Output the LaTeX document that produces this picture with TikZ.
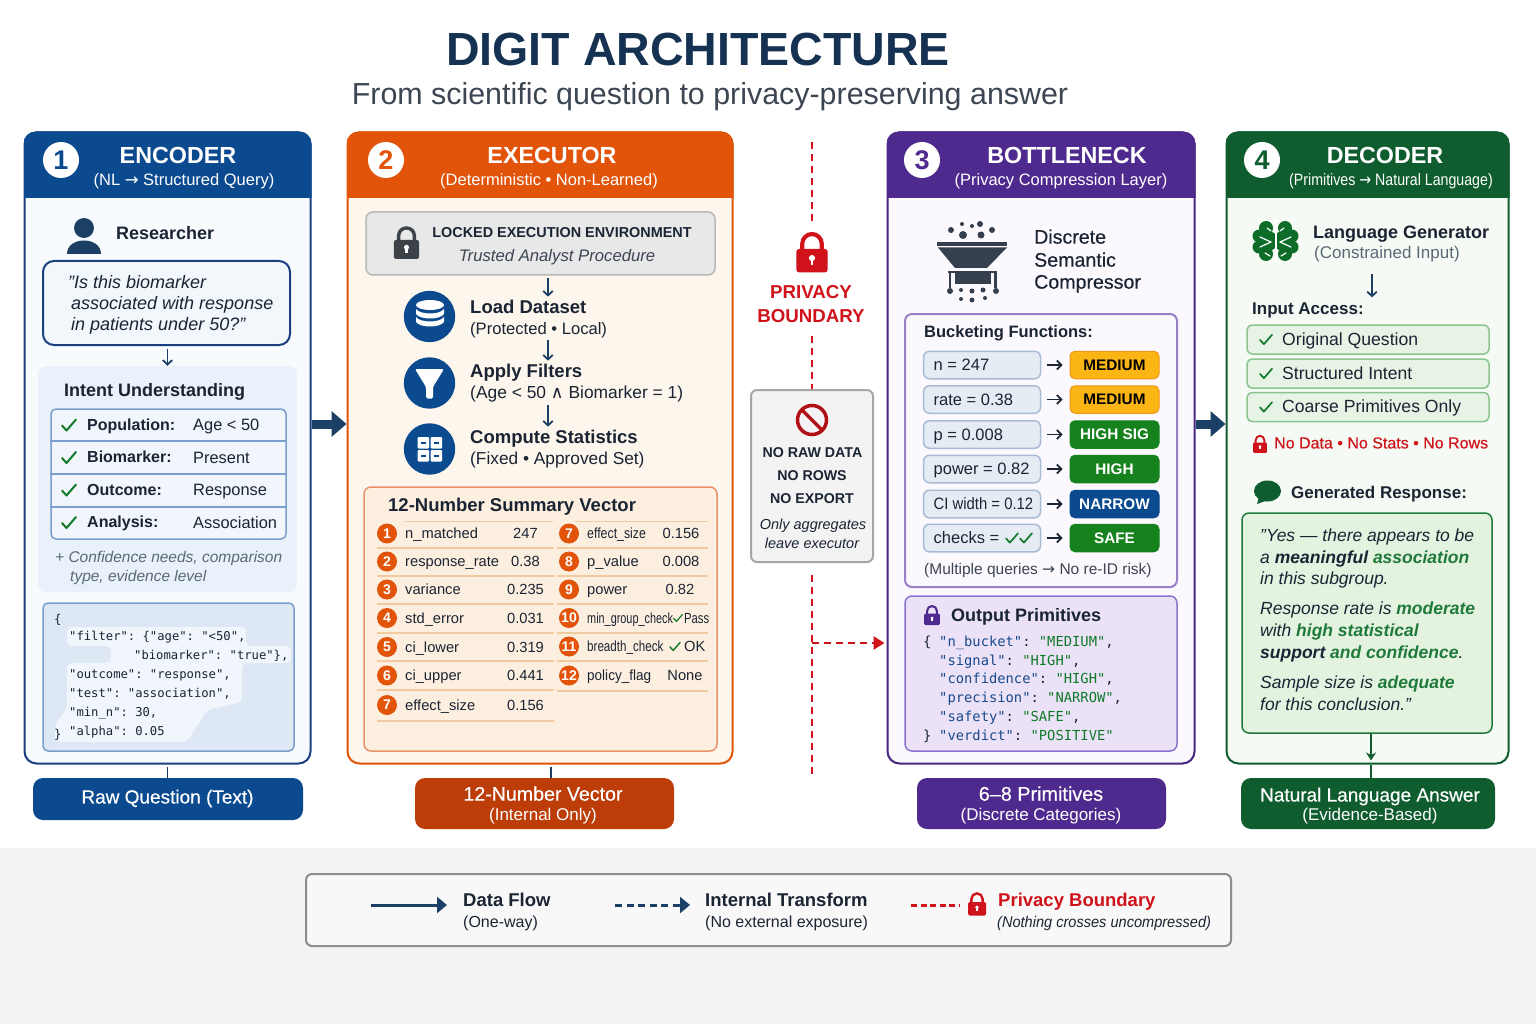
\documentclass[tikz,border=0pt]{standalone}
\usepackage{fontspec}
\setmainfont{Liberation Sans}
\setmonofont{DejaVu Sans Mono}
\newfontfamily\symfont{DejaVu Sans}
\newfontface\medfont{Liberation Sans}[FakeBold=0.4]
\usetikzlibrary{arrows.meta}

\definecolor{ink}{HTML}{1A2433}
\definecolor{navy}{HTML}{1C3F66}
\definecolor{encblue}{HTML}{0B4A8F}
\definecolor{encline}{HTML}{1B3F7F}
\definecolor{encbody}{HTML}{F8FBFE}
\definecolor{intentbg}{HTML}{E9F1FA}
\definecolor{querybg}{HTML}{DEE8F4}
\definecolor{tabline}{HTML}{7A9FCF}
\definecolor{excorange}{HTML}{E2540A}
\definecolor{excbody}{HTML}{FDF6EC}
\definecolor{excdark}{HTML}{BC3D08}
\definecolor{sumbg}{HTML}{FDEFDF}
\definecolor{sumline}{HTML}{E8916A}
\definecolor{rowline}{HTML}{F3C9A0}
\definecolor{botpurple}{HTML}{4F2A8E}
\definecolor{botbody}{HTML}{FBF8FE}
\definecolor{botline}{HTML}{9A7FC8}
\definecolor{outbg}{HTML}{EBE2F7}
\definecolor{decgreen}{HTML}{0F5C2E}
\definecolor{decbody}{HTML}{F5FBF4}
\definecolor{accessbg}{HTML}{E7F3E4}
\definecolor{accessline}{HTML}{8CC48E}
\definecolor{respbg}{HTML}{E4F2E0}
\definecolor{respgreen}{HTML}{1F7A3A}
\definecolor{tickgreen}{HTML}{137A2B}
\definecolor{bndred}{HTML}{D0121B}
\definecolor{iconslate}{HTML}{363F4D}
\definecolor{lockgray}{HTML}{3C4248}
\definecolor{mutegray}{HTML}{5A6878}
\definecolor{bandgray}{HTML}{F3F3F3}
\definecolor{amber}{HTML}{FBB515}
\definecolor{amberline}{HTML}{F0941A}
\definecolor{okgreen}{HTML}{16821E}
\definecolor{funbg}{HTML}{E6ECF4}
\definecolor{funline}{HTML}{A8BBD4}
\definecolor{jsonkey}{HTML}{1A4A8A}
\definecolor{jsonval}{HTML}{0F7A26}

\tikzset{
  plaintxt/.style={inner sep=0pt, anchor=base west, yshift=-#1*0.34pt, text=ink, font=\fontsize{#1}{#1}\selectfont},
  medtxt/.style={plaintxt=#1, font=\fontsize{#1}{#1}\selectfont\medfont},
  boldtxt/.style={plaintxt=#1, font=\fontsize{#1}{#1}\selectfont\bfseries},
  italtxt/.style={plaintxt=#1, font=\fontsize{#1}{#1}\selectfont\itshape},
  codetxt/.style={plaintxt=#1, font=\fontsize{#1}{#1}\selectfont\ttfamily},
  ctr/.style={anchor=base},
  stage/.style={draw, line width=2pt, rounded corners=12pt, inner sep=0pt, minimum height=631pt},
  softbox/.style={draw, line width=1.5pt, rounded corners=7pt, inner sep=0pt},
  tagbox/.style={rounded corners=10pt, inner sep=0pt},
  badge/.style={circle, fill=excorange, inner sep=0pt, minimum size=20pt, text=white, font=\fontsize{14}{14}\selectfont\bfseries},
  bucket/.style={rounded corners=5pt, line width=1pt, inner sep=0pt, minimum width=89pt, minimum height=27.5pt, font=\fontsize{15.3}{15.3}\selectfont\bfseries},
  funbox/.style={softbox, rounded corners=6pt, fill=funbg, draw=funline, minimum width=117pt, minimum height=27.5pt},
  accessbox/.style={softbox, rounded corners=5pt, fill=accessbg, draw=accessline, minimum width=242pt, minimum height=29pt},
  flow/.style={navy, line width=1.8pt, shorten >=3pt, -{Straight Barb[length=4.5pt,width=9.5pt]}},
  bigflow/.style={navy, line width=9pt, -{Triangle[length=15pt,width=25pt]}},
  stem/.style={navy, line width=1.8pt},
  bnddash/.style={bndred, line width=2.6pt, dash pattern=on 7pt off 5pt},
}

% icons
\newcommand{\tickmark}[4]{\draw[#3, line width=#4*2pt, line cap=round, line join=round]
  (#1-7*#4,#2+0.5*#4) -- (#1-2.5*#4,#2+5.5*#4) -- (#1+7*#4,#2-5.5*#4);}
\newcommand{\lockicon}[4]{\begin{scope}[shift={(#1,#2)}, scale=#3]
  \draw[#4, line width=#3*3.2pt] (-7.5,2) -- (-7.5,-4) arc (180:360:7.5) -- (7.5,2);
  \fill[#4, rounded corners=#3*2pt] (-12,0) rectangle (12,18);
  \fill[white] (0,7) circle (2.4);
  \fill[white] (-1,7) rectangle (1,12);
\end{scope}}
\newcommand{\stagehead}[8]{%
  \begin{scope}
    \clip[rounded corners=12pt] (#1.north west) rectangle (#1.south east);
    \fill[#2] (#1.north west) rectangle ([yshift=-67pt]#1.north east);
  \end{scope}
  \node[circle, fill=white, inner sep=0pt, minimum size=36pt, text=#2, font=\fontsize{27}{27}\selectfont\bfseries] (#1num) at (#4,160) {#3};
  \node[boldtxt=23.3, ctr, text=white] (#1title) at (#6,156) {#5};
  \node[plaintxt=16.5, ctr, text=white] (#1sub) at (#8,180) {#7};
}
\newcommand{\jk}[1]{\textcolor{jsonkey}{#1}}
\newcommand{\jv}[1]{\textcolor{jsonval}{#1}}
\newcommand{\resphl}[1]{\textcolor{respgreen}{\textbf{#1}}}
\newcommand{\narrowtxt}[2]{\scalebox{#1}[1]{#2}}

\begin{document}
\begin{tikzpicture}[x=1pt, y=-1pt]
  \useasboundingbox (0,0) rectangle (1536,1024);
  \fill[bandgray] (0,848) rectangle (1536,1024);

  % Title
  \node[boldtxt=46.5, ctr, text=navy!80!black] (maintitle) at (698,50) {DIGIT ARCHITECTURE};
  \node[plaintxt=30.4, ctr, text=ink!85] (mainsub) at (710,94) {From scientific question to privacy-preserving answer};

  % Panels
  \node[stage, draw=encline, fill=encbody, minimum width=286pt] (encoder) at (167.5,448) {};
  \node[stage, draw=excorange, fill=excbody, minimum width=385pt] (executor) at (540,448) {};
  \node[stage, draw=botpurple!90!black, fill=botbody, minimum width=307pt] (bottleneck) at (1041,448) {};
  \node[stage, draw=decgreen, fill=decbody, minimum width=282pt] (decoder) at (1367.5,448) {};

  \stagehead{encoder}{encblue}{1}{61}{ENCODER}{178}{(NL {\symfont →} Structured Query)}{184}
  \stagehead{executor}{excorange}{2}{386}{EXECUTOR}{552}{(Deterministic • Non-Learned)}{549}
  \stagehead{bottleneck}{botpurple}{3}{922}{BOTTLENECK}{1067}{(Privacy Compression Layer)}{1061}
  \stagehead{decoder}{decgreen}{4}{1262}{DECODER}{1385}{\narrowtxt{0.86}{(Primitives {\symfont →} Natural Language)}}{1391}

  % Flow between panels
  \draw[bigflow] ([yshift=24pt]encoder.east) -- ([yshift=24pt]executor.west);
  \draw[bigflow] ([yshift=24pt]bottleneck.east) -- ([yshift=24pt]decoder.west);

  % 1 Encoder
  \fill[navy] (84,228) circle (10);
  \fill[navy] (67,254.5) .. controls (67,236) and (101,236) .. (101,254.5) -- cycle;
  \node[boldtxt=18] (researcher) at (116,233.5) {Researcher};
  \node[softbox, draw=encline, line width=2pt, rounded corners=11pt, fill=encbody!60!intentbg, minimum width=247pt, minimum height=84pt] (question) at (166.5,303) {};
  \node[italtxt=18] (q1) at (68,282) {"Is this biomarker};
  \node[italtxt=18] (q2) at (71,303) {associated with response};
  \node[italtxt=18] (q3) at (71,324) {in patients under 50?"};
  \node[fill=intentbg, rounded corners=8pt, inner sep=0pt, minimum width=259pt, minimum height=226pt] (intent) at (167.5,479) {};
  \draw[flow, shorten >=0pt] (question.south -| intent.north) ++(0,3) -- (intent.north);
  \node[boldtxt=18] (intenthead) at (64,390) {Intent Understanding};
  \node[softbox, rounded corners=5pt, draw=tabline, fill=encbody!50!intentbg, minimum width=235pt, minimum height=130pt] (intenttab) at (168.5,474) {};
  \foreach \yy in {441,474,507}
    \draw[tabline, line width=1.5pt] (intenttab.west |- 0,\yy) -- (intenttab.east |- 0,\yy);
  \foreach \i/\key/\val/\yy in {1/Population:/Age < 50/425, 2/Biomarker:/Present/457.5, 3/Outcome:/Response/490, 4/Analysis:/Association/522.5} {
    \tickmark{69}{\yy}{tickgreen}{1}
    \node[boldtxt=16] (ikey\i) at (87,\yy) {\key};
    \node[plaintxt=16.4] (ival\i) at (193,\yy) {\val};
  }
  \node[italtxt=15.5, text=mutegray] (note1) at (55,557) {+ Confidence needs, comparison};
  \node[italtxt=15.5, text=mutegray] (note2) at (70,576) {type, evidence level};

  % query json
  \node[softbox, rounded corners=5pt, draw=tabline, fill=querybg, minimum width=251pt, minimum height=148pt] (query) at (168.5,677) {};
  \fill[encbody!50!intentbg, rounded corners=5pt] (67,627) -- (246,627) -- (246,646) -- (291,646) -- (291,663) -- (242,663) -- (242,702) -- (207,710) -- (187,742) -- (55,742) -- (55,725) -- (67,708) -- (67,663) -- (111,663) -- (111,646) -- (67,646) -- cycle;
  \foreach \i/\xx/\yy/\txt in {1/54/619/\{, 2/69/636.5/{"filter": \{"age": "<50",}, 3/134/655/{"biomarker": "true"\},}, 4/69/674/{"outcome": "response",}, 5/69/693/{"test": "association",}, 6/69/712/{"min\_n": 30,}, 7/69/731/{"alpha": 0.05}, 8/54/734/\}}
    \node[codetxt=12.2] (json\i) at (\xx,\yy) {\txt};

  \node[tagbox, fill=encblue, minimum width=270pt, minimum height=42pt] (tag1) at (168,799) {};
  \node[medtxt=19, ctr, text=white] (tag1a) at (167.5,797) {Raw Question (Text)};
  \draw[stem] ([yshift=-2pt]encoder.south) -- (tag1.north -| encoder.south);

  % 2 Executor
  \node[softbox, fill=lockgray!12!white, draw=black!28, minimum width=349pt, minimum height=63pt] (lockenv) at (540.5,243.5) {};
  \lockicon{406.5}{240}{1.05}{lockgray}
  \node[boldtxt=14.4, ctr] (lockenva) at (562,233) {LOCKED EXECUTION ENVIRONMENT};
  \node[italtxt=16.7, ctr, text=ink!85] (lockenvb) at (557,256) {Trusted Analyst Procedure};
  \coordinate (execaxis) at (548,0);

  \foreach \yy in {316.5,383,449}
    \fill[encblue] (429.5,\yy) circle (25.7);
  % database
  \fill[white] (430,305) ellipse (14 and 5);
  \foreach \yy in {0,8}
    \fill[white] (416,309+\yy) .. controls (420,315+\yy) and (440,315+\yy) .. (444,309+\yy) -- (444,314+\yy) .. controls (440,320+\yy) and (420,320+\yy) .. (416,314+\yy) -- cycle;
  % funnel
  \fill[white, rounded corners=1.5pt] (415,369) -- (444,369) -- (433,387) -- (433,398.5) -- (426,398.5) -- (426,387) -- cycle;
  % grid
  \foreach \xx in {417.5,430.5} \foreach \yy in {437,450} {
    \fill[white, rounded corners=1pt] (\xx,\yy) rectangle ++(11.5,11.5);
    \fill[encblue] (\xx+3.5,\yy+4.5) rectangle ++(4.5,2.5);
  }
  \node[boldtxt=18.5] (loada) at (470,307) {Load Dataset};
  \node[plaintxt=16.6] (loadb) at (470,329) {(Protected • Local)};
  \node[boldtxt=18.5] (filta) at (470,371) {Apply Filters};
  \node[plaintxt=17.4] (filtb) at (470,393) {(Age < 50 {\symfont ∧} Biomarker = 1)};
  \node[boldtxt=18.5] (compa) at (470,437) {Compute Statistics};
  \node[plaintxt=17.3] (compb) at (470,459) {(Fixed • Approved Set)};
  \draw[flow] (lockenv.south -| execaxis) ++(0,2) -- (loada.north -| execaxis);
  \draw[flow] (loadb.south -| execaxis) ++(0,2) -- (filta.north -| execaxis);
  \draw[flow] (filtb.south -| execaxis) ++(0,2) -- (compa.north -| execaxis);

  % summary vector
  \node[softbox, fill=sumbg, draw=sumline, minimum width=353pt, minimum height=264pt] (summary) at (540.5,619) {};
  \node[boldtxt=18.5] (sumhead) at (388,505) {12-Number Summary Vector};
  \foreach \xa/\xb/\yy in {405/553/521.5,377/554/548,377/554/576,377/554/604,377/554/633,377/554/661,377/554/690,377/554/721,575/708/521.5,557/708/548,557/708/576,557/708/604,557/708/633,557/708/661,557/708/691}
    \draw[rowline, line width=1.2pt] (\xa,\yy) -- (\xb,\yy);
  \foreach \i/\lab/\val/\yy in {1/n\_matched/247/533.5, 2/response\_rate/0.38/561.5, 3/variance/0.235/589.5, 4/std\_error/0.031/618, 5/ci\_lower/0.319/647, 6/ci\_upper/0.441/675.5, 7/effect\_size/0.156/705} {
    \node[badge] (lnum\i) at (387,\yy) {\i};
    \node[plaintxt=14.7] (llab\i) at (405,\yy) {\lab};
    \node[plaintxt=14.7, ctr] (lval\i) at (525.5,\yy) {\val};
  }
  \foreach \i/\lab/\sc/\yy in {7/effect\_size/0.84/533.5, 8/p\_value/1/561.5, 9/power/1/589.5, 10/min\_group\_check/0.74/618, 11/breadth\_check/0.79/646.5, 12/policy\_flag/0.92/675.5} {
    \node[badge] (rnum\i) at (569,\yy) {\i};
    \node[plaintxt=14.7] (rlab\i) at (587,\yy) {\narrowtxt{\sc}{\lab}};
  }
  \node[plaintxt=14.7, ctr] (rval7) at (681,533.5) {0.156};
  \node[plaintxt=14.7, ctr] (rval8) at (681,561.5) {0.008};
  \node[plaintxt=14.7, ctr] (rval9) at (680,589.5) {0.82};
  \tickmark{678}{618}{tickgreen}{0.62}
  \node[plaintxt=14.7, anchor=base east] (rval10) at (709.5,618) {\narrowtxt{0.77}{Pass}};
  \tickmark{675}{646.5}{tickgreen}{0.72}
  \node[plaintxt=14.7] (rval11) at (684,646.5) {OK};
  \node[plaintxt=14.7, ctr] (rval12) at (685,675.5) {None};

  \node[tagbox, fill=excdark, minimum width=259pt, minimum height=51pt] (tag2) at (544.5,803.5) {};
  \node[medtxt=19.6, ctr, text=white] (tag2a) at (543,794) {12-Number Vector};
  \node[plaintxt=17, ctr, text=white] (tag2b) at (543,815) {(Internal Only)};
  \coordinate (stem2) at (551,770);
  \draw[stem] (executor.south -| stem2) ++(0,2) -- (tag2.north -| stem2);

  % Privacy boundary
  \coordinate (bnd1) at (812,142);
  \coordinate (bnd2) at (812,224);
  \coordinate (bnd3) at (812,336);
  \coordinate (bnd4) at (812,575);
  \coordinate (bnd5) at (812,776);
  \coordinate (bndfork) at (812,643);
  \node[softbox, line width=2pt, rounded corners=6pt, fill=bandgray, draw=black!35, minimum width=122pt, minimum height=172pt] (stopbox) at (812,476) {};
  \draw[bnddash] (bnd1) -- (bnd2);
  \draw[bnddash] (bnd3) -- (stopbox.north);
  \draw[bnddash] (bnd4) -- (bnd5);
  \draw[bnddash, shorten >=2pt, -{Triangle[length=11pt,width=13pt]}] (bndfork) -- (bottleneck.west |- bndfork);
  \lockicon{812}{249}{1.3}{bndred}
  \node[boldtxt=18.7, ctr, text=bndred] (priv1) at (811,292.5) {PRIVACY};
  \node[boldtxt=18.7, ctr, text=bndred] (priv2) at (811,316.5) {BOUNDARY};
  \draw[bndred!85!black, line width=3.5pt] (812,420) circle (14.5);
  \draw[bndred!85!black, line width=3.5pt] (802,410) -- (822,430);
  \node[boldtxt=14.2, ctr] (stop1) at (812.5,453) {NO RAW DATA};
  \node[boldtxt=14.2, ctr] (stop2) at (812,476) {NO ROWS};
  \node[boldtxt=14.2, ctr] (stop3) at (812,499) {NO EXPORT};
  \node[italtxt=14.5, ctr] (stop4) at (813,525) {Only aggregates};
  \node[italtxt=14.5, ctr] (stop5) at (812,544) {leave executor};

  % 3 Bottleneck
  \foreach \xx/\yy/\rr in {951/230/3,963/235/4,962/224/2,972/226/2,980/224/3,981/235/3.5,992/230/3,950/291/3,961/290/2,972/291/2.5,983/290/2.5,996/291/3,961/299/2,972/300/2.5,985/298/2}
    \fill[iconslate] (\xx,\yy) circle (\rr);
  \fill[iconslate] (937,242) rectangle (1007,246);
  \fill[iconslate] (938,247.5) -- (1007,247.5) -- (987,268) -- (955,268) -- cycle;
  \fill[iconslate] (948,271) rectangle (997,273.5);
  \fill[iconslate] (955,273) rectangle (991,284);
  \fill[iconslate] (948.5,273) rectangle (951,288);
  \fill[iconslate] (994,273) rectangle (996.5,288);
  \node[medtxt=19.6] (comp1) at (1034,237) {Discrete};
  \node[medtxt=19.6] (comp2) at (1034,260) {Semantic};
  \node[medtxt=19.6] (comp3) at (1034,282) {Compressor};

  \node[softbox, line width=2pt, fill=botbody, draw=botline, minimum width=272pt, minimum height=273pt] (bucketfn) at (1041,450.5) {};
  \node[boldtxt=16.5] (buckethead) at (924,332) {Bucketing Functions:};
  \foreach \i/\lab/\sc/\word/\col/\edge/\txt/\yy in {
    1/n = 247/1/MEDIUM/amber/amberline/black/365,
    2/rate = 0.38/1/MEDIUM/amber/amberline/black/399.5,
    3/p = 0.008/1/HIGH SIG/okgreen/okgreen/white/434.5,
    4/power = 0.82/1/HIGH/okgreen/okgreen/white/469,
    5/CI width = 0.12/0.9/NARROW/encblue/encblue/white/504,
    6/checks = /1/SAFE/okgreen/okgreen/white/538} {
    \node[funbox] (fun\i) at (982,\yy) {};
    \node[plaintxt=16.5] (funtxt\i) at (933.5,\yy) {\narrowtxt{\sc}{\lab}};
    \node[bucket, fill=\col, draw=\edge, text=\txt] (bin\i) at (1114.5,\yy) {\word};
    \draw[ink, line width=1.7pt, shorten <=6pt, shorten >=7pt, -{Straight Barb[length=4.5pt,width=9pt]}] (fun\i) -- (bin\i);
  }
  \tickmark{1012}{538}{tickgreen}{0.85}
  \tickmark{1026}{538}{tickgreen}{0.85}
  \node[plaintxt=15.5, text=ink!85] (reid) at (924,569) {(Multiple queries {\symfont →} No re-ID risk)};

  \node[softbox, fill=outbg, draw=botline!90!blue, minimum width=272pt, minimum height=155pt] (primbox) at (1041,673.5) {};
  \lockicon{932}{613.5}{0.65}{botpurple}
  \node[boldtxt=18] (primhead) at (951,615) {Output Primitives};
  \node[codetxt=13.8] (prim1) at (923,642) {\{};
  \node[codetxt=13.8] (prim1b) at (939,642) {\jk{"n\_bucket"}: \jv{"MEDIUM"},};
  \node[codetxt=13.8] (prim2) at (939,660.5) {\jk{"signal"}: \jv{"HIGH"},};
  \node[codetxt=13.8] (prim3) at (939,679) {\jk{"confidence"}: \jv{"HIGH"},};
  \node[codetxt=13.8] (prim4) at (939,698) {\jk{"precision"}: \jv{"NARROW"},};
  \node[codetxt=13.8] (prim5) at (939,717) {\jk{"safety"}: \jv{"SAFE"},};
  \node[codetxt=13.8] (prim6) at (923,735.5) {\}};
  \node[codetxt=13.8] (prim6b) at (939,735.5) {\jk{"verdict"}: \jv{"POSITIVE"}};

  \node[tagbox, fill=botpurple, minimum width=249pt, minimum height=51pt] (tag3) at (1041.5,803.5) {};
  \node[medtxt=19.8, ctr, text=white] (tag3a) at (1041,794) {6–8 Primitives};
  \node[plaintxt=17, ctr, text=white] (tag3b) at (1041,815) {(Discrete Categories)};

  % 4 Decoder
  \foreach \xx/\yy/\rr in {1266/228/7,1285/228/7,1259/236/6.5,1292/236/6.5,1259/247/6.5,1292/247/6.5,1266/254/7,1285/254/7,1268/241/10,1283/241/10}
    \fill[decgreen!90!green] (\xx,\yy) circle (\rr);
  \draw[white, line width=2pt] (1275.5,219) -- (1275.5,263);
  \foreach \xa/\ya/\xb/\yb in {1260/237/1271/242,1260/247/1271/242,1291/237/1280/242,1291/247/1280/242,1265/253/1270/256,1286/253/1281/256,1267/228/1271/231,1284/228/1280/231}
    \draw[white, line width=1.2pt, line cap=round] (\xa,\ya) -- (\xb,\yb);
  \node[boldtxt=18] (gena) at (1313,232) {Language Generator};
  \node[plaintxt=17, text=mutegray] (genb) at (1314,253) {(Constrained Input)};
  \node[boldtxt=17] (inputhead) at (1252,308.5) {Input Access:};
  \coordinate (genaxis) at (1372,0);
  \draw[flow, shorten <=11pt, shorten >=5pt] (genb.south -| genaxis) -- (inputhead.north -| genaxis);
  \foreach \i/\lab/\yy in {1/Original Question/339.5, 2/Structured Intent/373.5, 3/Coarse Primitives Only/407} {
    \node[accessbox] (acc\i) at (1368,\yy) {};
    \tickmark{1266}{\yy}{tickgreen}{0.85}
    \node[plaintxt=17.6] (acctxt\i) at (1282,\yy) {\lab};
  }
  \lockicon{1260}{442.5}{0.58}{bndred}
  \node[plaintxt=16, text=bndred, font=\fontsize{16}{16}\selectfont\medfont] (nodata) at (1274,443) {No Data • No Stats • No Rows};
  \fill[decgreen] (1267.5,491) ellipse (13.5 and 10.5);
  \fill[decgreen] (1259,497) -- (1257,504) -- (1268,500) -- cycle;
  \node[boldtxt=17] (genresp) at (1291,493) {Generated Response:};

  \node[softbox, fill=respbg, draw=respgreen, minimum width=250pt, minimum height=220pt] (respbox) at (1367,623) {};
  \node[italtxt=17.5] (resp1) at (1260,536) {"Yes — there appears to be};
  \node[italtxt=17.5] (resp2) at (1260,557.5) {a \textbf{meaningful} \resphl{association}};
  \node[italtxt=17.5] (resp3) at (1260,579) {in this subgroup.};
  \node[italtxt=17.5] (resp4) at (1260,609) {Response rate is \resphl{moderate}};
  \node[italtxt=17.5] (resp5) at (1260,631) {with \resphl{high statistical}};
  \node[italtxt=17.5] (resp6) at (1260,653) {\textbf{support} \resphl{and confidence}.};
  \node[italtxt=17.5] (resp7) at (1260,683) {Sample size is \resphl{adequate}};
  \node[italtxt=17.5] (resp8) at (1260,705) {for this conclusion."};

  \node[tagbox, fill=decgreen, minimum width=254pt, minimum height=51pt] (tag4) at (1368,803.5) {};
  \node[medtxt=19, ctr, text=white] (tag4a) at (1370,795) {Natural Language Answer};
  \node[plaintxt=17, ctr, text=white] (tag4b) at (1370,815) {(Evidence-Based)};
  \coordinate (stem4) at (1371,770);
  \draw[decgreen, line width=1.7pt, shorten >=4pt, -{Stealth[length=8pt,width=10pt]}] (respbox.south -| stem4) -- (decoder.south -| stem4);
  \draw[stem, decgreen] (decoder.south -| stem4) -- (tag4.north -| stem4);

  % Legend
  \node[softbox, line width=2pt, rounded corners=6pt, fill=white!40!bandgray, draw=black!45, minimum width=925pt, minimum height=72pt] (legend) at (768.5,910) {};
  \coordinate (leg1a) at (371,905);
  \coordinate (leg1b) at (447,905);
  \coordinate (leg2a) at (615,905);
  \coordinate (leg2b) at (690,905);
  \coordinate (leg3a) at (911,905);
  \coordinate (leg3b) at (960,905);
  \draw[navy, line width=3pt, -{Triangle[length=10pt,width=16pt]}] (leg1a) -- (leg1b);
  \draw[navy, line width=3pt, dash pattern=on 7pt off 4.5pt, -{Triangle[length=10pt,width=16pt]}] (leg2a) -- (leg2b);
  \draw[bndred, line width=3pt, dash pattern=on 6pt off 3.5pt] (leg3a) -- (leg3b);
  \lockicon{977}{902}{0.75}{bndred}
  \node[boldtxt=18.5] (lega) at (463,900) {Data Flow};
  \node[plaintxt=16] (legaa) at (463,922) {(One-way)};
  \node[boldtxt=18.5] (legb) at (705,900) {Internal Transform};
  \node[plaintxt=16] (legbb) at (705,922) {(No external exposure)};
  \node[boldtxt=18.5, text=bndred] (legc) at (998,900) {Privacy Boundary};
  \node[italtxt=15.5] (legcc) at (997,922) {\narrowtxt{0.94}{(Nothing crosses uncompressed)}};
\end{tikzpicture}
\end{document}
